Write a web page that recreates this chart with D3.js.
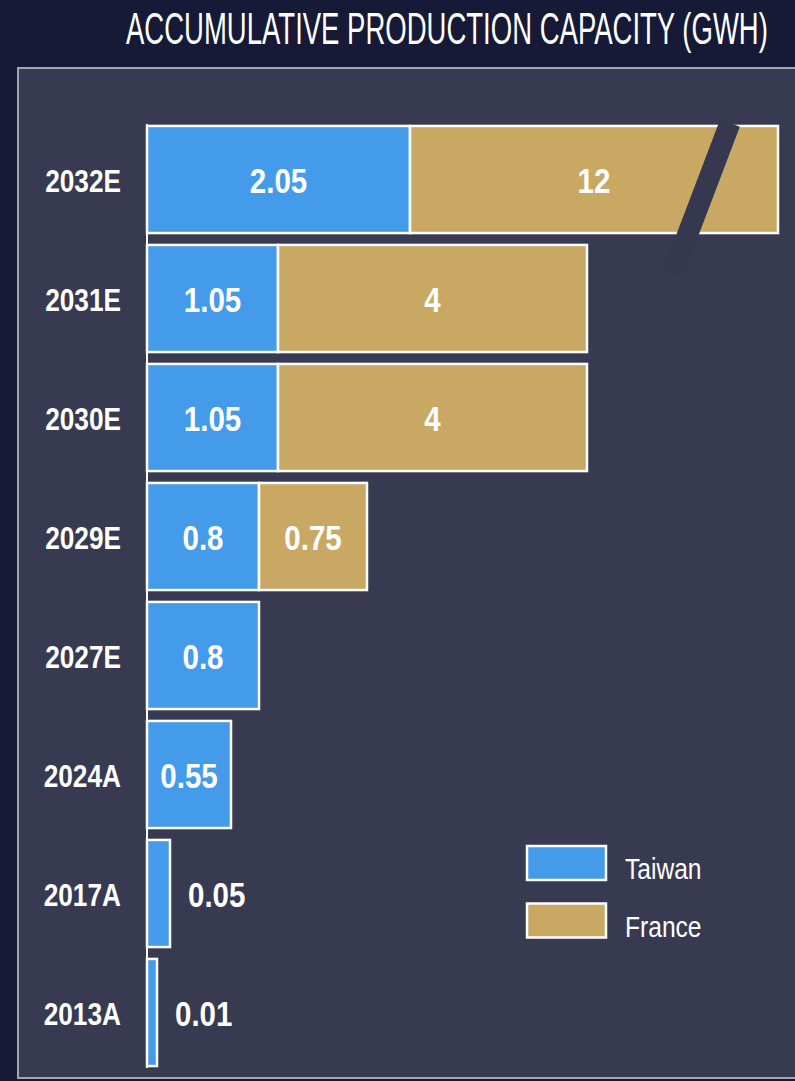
<!DOCTYPE html>
<html>
<head>
<meta charset="utf-8">
<script src="https://cdn.jsdelivr.net/npm/d3@7"></script>
<style>
  html, body { margin: 0; padding: 0; background: #161a36; }
  svg { display: block; }
</style>
</head>
<body>
<div id="chart"></div>
<script>
/* Accumulative production capacity, Taiwan vs France, horizontal stacked bars. */

var years = ["2032E", "2031E", "2030E", "2029E", "2027E", "2024A", "2017A", "2013A"];
var taiwan = [2.05, 1.05, 1.05, 0.8, 0.8, 0.55, 0.05, 0.01];
var france = [12, 4, 4, 0.75, 0, 0, 0, 0];
var seriesNames = ["Taiwan", "France"];
var title = "ACCUMULATIVE PRODUCTION CAPACITY (GWH)";

var W = 795, H = 1081;
var c = {
  bg: "#161a36",
  panel: "#373a50",
  slash: "#35384e",
  border: "#a3a5b2",
  taiwan: "#449be9",
  france: "#c9a864",
  text: "#ffffff"
};
var font = "'Liberation Sans', Arial, sans-serif";
var squeeze = 0.82; // the source uses a narrow face

var svg = d3.select("#chart").append("svg")
  .attr("width", W).attr("height", H)
  .attr("viewBox", "0 0 " + W + " " + H);

svg.append("rect").attr("width", W).attr("height", H).attr("fill", c.bg);

// panel
svg.append("rect")
  .attr("x", 18).attr("y", 68)
  .attr("width", W + 20).attr("height", 1010)
  .attr("fill", c.panel)
  .attr("stroke", c.border).attr("stroke-width", 2);

// title, squeezed to the width it takes in the source
var tg = svg.append("g").attr("transform", "translate(126,44)");
var tt = tg.append("text")
  .attr("font-family", font)
  .attr("font-size", 44)
  .attr("fill", c.text)
  .text(title);
var tw = tt.node().getComputedTextLength() || 642;
tt.attr("transform", "scale(" + (642 / tw) + ",1)");

// narrow text helper: a group at (x, y) with a horizontally squeezed label
function label(sel, x, y, anchor, size, weight) {
  var t = sel.append("g")
    .attr("transform", function (d) { return "translate(" + x(d) + "," + y(d) + ")"; })
    .append("text")
    .attr("transform", "scale(" + squeeze + ",1)")
    .attr("text-anchor", anchor)
    .attr("font-family", font)
    .attr("font-size", size)
    .attr("font-weight", weight)
    .attr("fill", c.text);
  return t;
}

var x0 = 147;
var y = d3.scaleBand().domain(years).range([120, 1072]).paddingInner(0.1).paddingOuter(0.05);

// the source figure is not drawn to scale: small values are stretched, France is cut
var xT = d3.scaleLinear().domain([0, 0.01, 0.05, 0.55, 0.8, 1.05, 2.05]).range([0, 10, 23, 84, 112, 131, 263]);
var xF = d3.scaleLinear().domain([0, 0.75, 4, 12]).range([0, 108, 309, 368]);

var rows = years.map(function (yr, i) {
  var wt = xT(taiwan[i]);
  var wf = france[i] ? xF(france[i]) : 0;
  return [
    { year: yr, name: seriesNames[0], value: taiwan[i], x: x0, w: wt, fill: c.taiwan },
    { year: yr, name: seriesNames[1], value: france[i], x: x0 + wt, w: wf, fill: c.france }
  ];
});
var segs = [].concat.apply([], rows).filter(function (d) { return d.value > 0; });

var g = svg.append("g");

g.selectAll("rect.bar").data(segs).enter().append("rect")
  .attr("class", "bar")
  .attr("x", function (d) { return d.x; })
  .attr("y", function (d) { return y(d.year); })
  .attr("width", function (d) { return d.w; })
  .attr("height", y.bandwidth())
  .attr("fill", function (d) { return d.fill; })
  .attr("stroke", "#fff")
  .attr("stroke-width", 2.5);

// axis line
svg.append("line")
  .attr("x1", x0).attr("x2", x0)
  .attr("y1", y(years[0]) - 2).attr("y2", y(years[years.length - 1]) + y.bandwidth() + 2)
  .attr("stroke", "#fff").attr("stroke-width", 2);

// break mark on the France 12 bar
var bTop = y(years[0]);
var bx = x0 + xT(taiwan[0]) + xF(12) - 61;
svg.append("line")
  .attr("x1", bx + 13).attr("y1", bTop - 3)
  .attr("x2", bx - 44).attr("y2", bTop + 147)
  .attr("stroke", c.slash).attr("stroke-width", 21);

// value labels
var vals = g.selectAll("g.val").data(segs).enter().append("g").attr("class", "val");
label(vals,
  function (d) { return d.w < 50 ? d.x + d.w + 18 : d.x + d.w / 2; },
  function (d) { return y(d.year) + y.bandwidth() / 2 + 13; },
  null, 36, 700)
  .attr("text-anchor", function (d) { return d.w < 50 ? "start" : "middle"; })
  .text(function (d) { return d.value; });

// year labels
var yrs = svg.selectAll("g.yr").data(years).enter().append("g").attr("class", "yr");
label(yrs,
  function () { return 121; },
  function (d) { return y(d) + y.bandwidth() / 2 + 12; },
  "end", 32, 700)
  .text(function (d) { return d; });

// legend
var leg = svg.append("g").attr("transform", "translate(527,846)");
var li = leg.selectAll("g").data(seriesNames).enter().append("g")
  .attr("transform", function (_d, i) { return "translate(0," + i * 57.5 + ")"; });
li.append("rect")
  .attr("width", 79).attr("height", 34)
  .attr("fill", function (_d, i) { return i ? c.france : c.taiwan; })
  .attr("stroke", "#fff").attr("stroke-width", 2.5);
label(li, function () { return 98; }, function () { return 33; }, "start", 30, 400)
  .text(function (d) { return d; });
</script>
</body>
</html>
